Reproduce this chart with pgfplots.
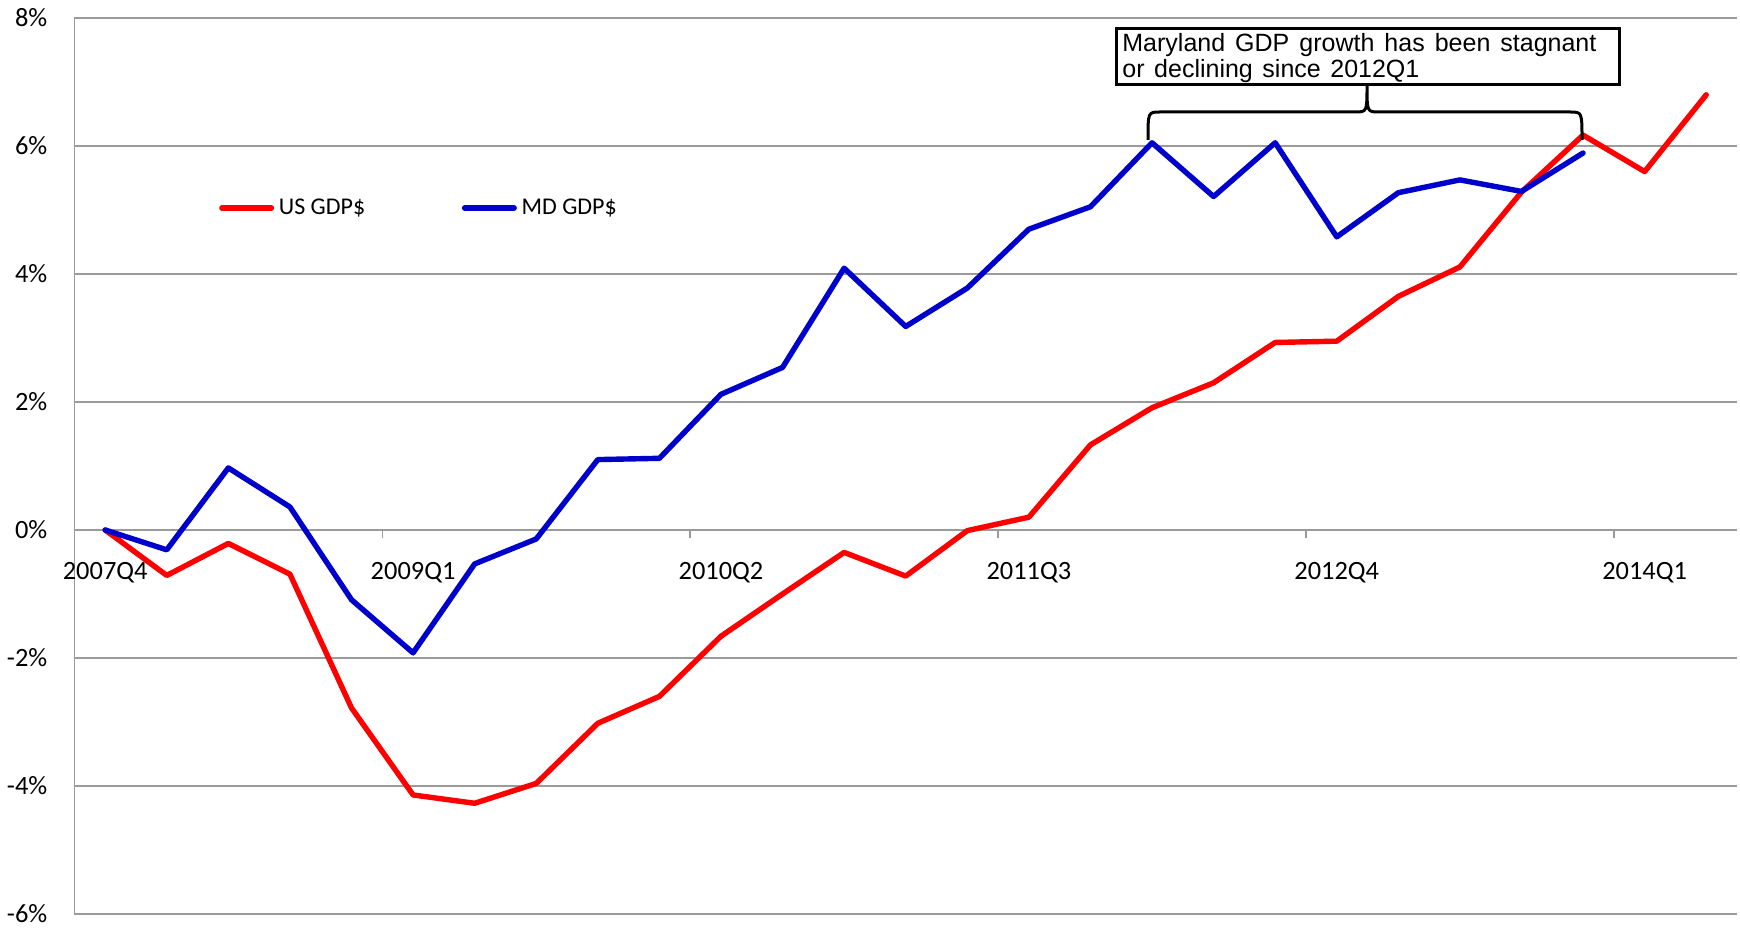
\documentclass[border=0pt]{standalone}
\usepackage{pgfplots}
\pgfplotsset{compat=1.18}
\usepackage{fontspec}
\setmainfont{Carlito}
\newfontfamily\arial{Liberation Sans}
\definecolor{usred}{RGB}{255,0,0}
\definecolor{mdblue}{RGB}{0,0,204}
\definecolor{gridgray}{RGB}{155,155,155}
\begin{document}
\begin{tikzpicture}[x=0.5pt,y=0.5pt]
\useasboundingbox (0,0) rectangle (1740,927);
\begin{axis}[
  at={(37.2pt,6.5pt)}, anchor=south west,
  width=831.3pt, height=448pt, scale only axis,
  xmin=-0.5, xmax=26.5, ymin=-6, ymax=8,
  enlargelimits=false,
  axis x line=middle, axis y line=left,
  axis line style={draw=gridgray, line width=0.7pt, -},
  hide obscured x ticks=false, hide obscured y ticks=false,
  ymajorgrids, grid style={draw=gridgray, line width=0.7pt},
  ytick={-6,-4,-2,0,2,4,6,8},
  yticklabels={-6\%,-4\%,-2\%,0\%,2\%,4\%,6\%,8\%},
  ytick style={draw=none},
  yticklabel style={font=\fontsize{13.2}{15}\selectfont, anchor=east, xshift=-6pt},
  xtick={-0.5,4.5,9.5,14.5,19.5,24.5},
  xticklabels={2007Q4,2009Q1,2010Q2,2011Q3,2012Q4,2014Q1},
  xtick style={draw=gridgray, line width=0.7pt},
  tick align=outside, major tick length=4pt,
  xticklabel style={font=\fontsize{13.2}{15}\selectfont, anchor=north, xshift=15.39pt, yshift=-8.5pt},
  legend columns=2,
  legend style={at={(0.0852,0.788)}, anchor=west, draw=none, fill=none, inner sep=0pt,
    nodes={inner sep=1pt}, font=\fontsize{12}{14}\selectfont,
    /tikz/every even column/.append style={column sep=46pt}},
  legend image code/.code={\path (0pt,0pt) (27.5pt,0pt); \draw[#1, line cap=round] (1.35pt,0pt) -- (26.15pt,0pt);},
]
\addplot[usred, line width=2.7pt, line join=round, line cap=round] coordinates {
(0,0) (1,-0.71) (2,-0.21) (3,-0.69) (4,-2.78) (5,-4.14) (6,-4.27) (7,-3.96) (8,-3.02) (9,-2.60)
(10,-1.66) (11,-1.00) (12,-0.35) (13,-0.72) (14,-0.01) (15,0.20) (16,1.33) (17,1.91) (18,2.30)
(19,2.93) (20,2.95) (21,3.65) (22,4.11) (23,5.28) (24,6.17) (25,5.60) (26,6.80)};
\addlegendentry{US GDP\$}
\addplot[mdblue, line width=2.7pt, line join=round, line cap=round] coordinates {
(0,0) (1,-0.31) (2,0.97) (3,0.36) (4,-1.09) (5,-1.92) (6,-0.53) (7,-0.14) (8,1.10) (9,1.12)
(10,2.12) (11,2.54) (12,4.09) (13,3.18) (14,3.78) (15,4.70) (16,5.05) (17,6.05) (18,5.21)
(19,6.05) (20,4.58) (21,5.27) (22,5.47) (23,5.29) (24,5.89)};
\addlegendentry{MD GDP\$}
\end{axis}
% annotation box
\draw[line width=1.5pt, fill=white] (1116,898) rectangle (1619,842);
\node[anchor=base west, inner sep=0pt, font=\arial\fontsize{12.5}{14}\selectfont] at (1122,875)
  {\makebox[237pt][s]{Maryland GDP growth has been stagnant}};
\node[anchor=base west, inner sep=0pt, font=\arial\fontsize{12.5}{14}\selectfont] at (1122,849)
  {\makebox[148.5pt][s]{or declining since 2012Q1}};
% bracket
\draw[line width=1.5pt] (1148,787) .. controls (1148,815) .. (1160,815) -- (1355,815)
  .. controls (1367,815) .. (1367,842) .. controls (1367,815) .. (1379,815) -- (1570,815)
  .. controls (1582,815) .. (1582,787);
\end{tikzpicture}
\end{document}
